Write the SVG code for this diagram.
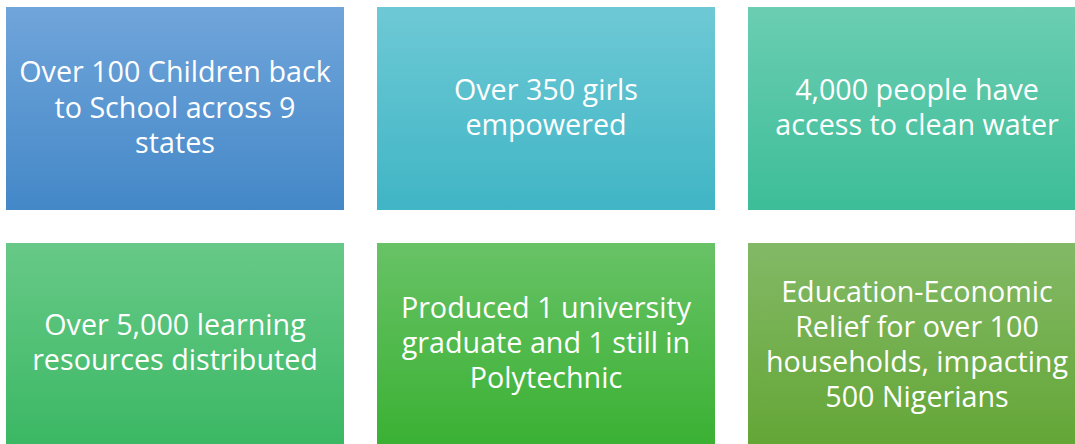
<svg xmlns="http://www.w3.org/2000/svg" width="1075" height="444" viewBox="0 0 1075 444">
<defs>
<linearGradient id="g1" x1="0" y1="0" x2="0" y2="1"><stop offset="0" stop-color="#70a5da"/><stop offset="1" stop-color="#4488c8"/></linearGradient>
<linearGradient id="g2" x1="0" y1="0" x2="0" y2="1"><stop offset="0" stop-color="#6ec9d5"/><stop offset="1" stop-color="#40b5c5"/></linearGradient>
<linearGradient id="g3" x1="0" y1="0" x2="0" y2="1"><stop offset="0" stop-color="#6bceb2"/><stop offset="1" stop-color="#3dbd98"/></linearGradient>
<linearGradient id="g4" x1="0" y1="0" x2="0" y2="1"><stop offset="0" stop-color="#67c987"/><stop offset="1" stop-color="#3bb864"/></linearGradient>
<linearGradient id="g5" x1="0" y1="0" x2="0" y2="1"><stop offset="0" stop-color="#68c266"/><stop offset="1" stop-color="#3ab133"/></linearGradient>
<linearGradient id="g6" x1="0" y1="0" x2="0" y2="1"><stop offset="0" stop-color="#83b966"/><stop offset="1" stop-color="#64a636"/></linearGradient>
</defs>
<style>
text{font-family:"Open Sans","Noto Sans",sans-serif;font-size:28.7px;fill:#ffffff;text-anchor:middle}
</style>
<g id="connectors"/>
<g id="n1"><rect x="6" y="7" width="338" height="203" fill="url(#g1)"/>
<text x="175" y="82">Over 100 Children back</text><text x="175" y="118">to School across 9</text><text x="175" y="153">states</text></g>
<g id="n2"><rect x="377" y="7" width="338" height="203" fill="url(#g2)"/>
<text x="546" y="100">Over 350 girls</text><text x="546" y="135">empowered</text></g>
<g id="n3"><rect x="748" y="7" width="338" height="203" fill="url(#g3)"/>
<text x="917" y="100">4,000 people have</text><text x="917" y="135">access to clean water</text></g>
<g id="n4"><rect x="6" y="243" width="338" height="203" fill="url(#g4)"/>
<text x="175" y="335">Over 5,000 learning</text><text x="175" y="370">resources distributed</text></g>
<g id="n5"><rect x="377" y="243" width="338" height="203" fill="url(#g5)"/>
<text x="546" y="318">Produced 1 university</text><text x="546" y="353">graduate and 1 still in</text><text x="546" y="388">Polytechnic</text></g>
<g id="n6"><rect x="748" y="243" width="338" height="203" fill="url(#g6)"/>
<text x="917" y="302">Education-Economic</text><text x="917" y="337">Relief for over 100</text><text x="917" y="372">households, impacting</text><text x="917" y="407">500 Nigerians</text></g>
</svg>
